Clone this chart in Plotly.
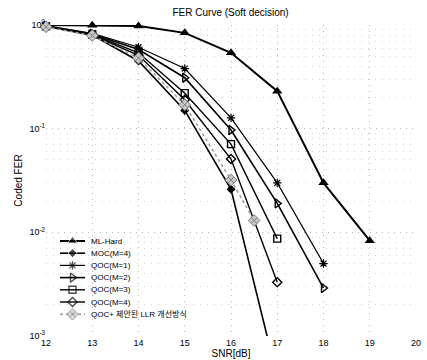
import plotly.graph_objects as go

snr = [12, 13, 14, 15, 16, 17, 18, 19]
ml_hard = [1.0, 0.995, 0.98, 0.84, 0.54, 0.23, 0.030, 0.0083]
moc_m4 = [0.97, 0.80, 0.45, 0.15, 0.026, 0.0004]
qoc_m1 = [0.98, 0.83, 0.61, 0.38, 0.127, 0.030, 0.0050]
qoc_m2 = [0.98, 0.82, 0.58, 0.31, 0.097, 0.019, 0.0029]
qoc_m3 = [0.97, 0.81, 0.54, 0.22, 0.071, 0.0087]
qoc_m4 = [0.97, 0.80, 0.51, 0.19, 0.051, 0.0033]
snr_plus = [12, 13, 14, 15, 16, 16.5]
qoc_plus = [0.96, 0.79, 0.48, 0.17, 0.032, 0.013]

xticks = [12, 13, 14, 15, 16, 17, 18, 19, 20]
yticks = [1, 0.1, 0.01, 0.001]
yticktext = ["10<sup>0</sup>", "10<sup>-1</sup>", "10<sup>-2</sup>", "10<sup>-3</sup>"]

FONT = "Liberation Sans, Arial, Noto Sans CJK KR"

W, H = 427, 360
L, R, T, B = 46, 11, 25, 24

series = [
    ("ML-Hard", snr, ml_hard, dict(color="black", width=2), dict(symbol="triangle-up", size=9, color="black")),
    ("MOC(M=4)", snr, moc_m4, dict(color="black", width=1.6), dict(symbol="diamond", size=7, color="black")),
    ("QOC(M=1)", snr, qoc_m1, dict(color="black", width=1.2), dict(symbol="asterisk-open", size=7, color="black", line=dict(width=1.2, color="black"))),
    ("QOC(M=2)", snr, qoc_m2, dict(color="black", width=1.6), dict(symbol="triangle-right-open", size=8, color="black", line=dict(width=1.4, color="black"))),
    ("QOC(M=3)", snr, qoc_m3, dict(color="black", width=1.4), dict(symbol="square-open", size=7, color="black", line=dict(width=1.4, color="black"))),
    ("QOC(M=4)", snr, qoc_m4, dict(color="black", width=1.4), dict(symbol="diamond-open", size=7, color="black", line=dict(width=1.4, color="black"))),
    ("QOC+ 제안된 LLR 개선방식", snr_plus, qoc_plus, dict(color="#9a9a9a", width=1.5, dash="dot"), dict(symbol="diamond-x", size=9, color="#c8c8c8", line=dict(width=1, color="#808080"))),
]

fig = go.Figure()
for name, xs, ys, ln, mk in series:
    fig.add_trace(go.Scatter(x=xs, y=ys, name=name, mode="lines+markers",
                             line=ln, marker=mk, cliponaxis=False, showlegend=False))

# hand-built legend (pixel-coordinate overlay axes)
leg_x0, leg_x1, leg_xm, leg_tx = 60, 85, 72.5, 89
leg_y0, leg_dy = 241, 12.2
annotations = []
for i, (name, xs, ys, ln, mk) in enumerate(series):
    yy = leg_y0 + i * leg_dy
    mk2 = dict(mk)
    mk2["size"] = [0, mk["size"], 0]
    fig.add_trace(go.Scatter(x=[leg_x0, leg_xm, leg_x1], y=[yy, yy, yy], mode="lines+markers",
                             line=ln, marker=mk2, xaxis="x2", yaxis="y2",
                             showlegend=False, hoverinfo="skip", cliponaxis=False))
    annotations.append(dict(x=leg_tx, y=yy, xref="x2", yref="y2", text=name, showarrow=False,
                            xanchor="left", yanchor="middle",
                            font=dict(size=8, family=FONT, color="black")))

fig.update_layout(
    width=W, height=H,
    margin=dict(l=L, r=R, t=T, b=B, autoexpand=False),
    paper_bgcolor="white", plot_bgcolor="white",
    font=dict(family=FONT, size=9, color="black"),
    title=dict(text="FER Curve (Soft decision)", x=0.54, xanchor="center", y=0.975, yanchor="top",
               font=dict(size=10, family=FONT, color="black")),
    showlegend=False,
    annotations=annotations,
    xaxis2=dict(overlaying="x", range=[L, W - R], visible=False, fixedrange=True),
    yaxis2=dict(overlaying="y", range=[H - B, T], visible=False, fixedrange=True),
    xaxis=dict(range=[12, 20], tickvals=xticks, showline=False, zeroline=False,
               showgrid=True, gridcolor="#b8b8b8", griddash="1px,5px", gridwidth=1,
               ticks="", tickfont=dict(size=9, color="black"), automargin=False,
               title=dict(text="SNR[dB]", font=dict(size=10, color="black"), standoff=2)),
    yaxis=dict(type="log", range=[-3, 0], tickvals=yticks, ticktext=yticktext,
               showline=False, zeroline=False, showgrid=True, gridcolor="#b8b8b8",
               griddash="1px,5px", gridwidth=1, ticks="", tickfont=dict(size=9, color="black"),
               automargin=False,
               minor=dict(showgrid=True, gridcolor="#d4d4d4", griddash="1px,6px",
                          tickvals=[m * 10 ** e for e in (-3, -2, -1) for m in range(2, 10)]),
               title=dict(text="Coded FER", font=dict(size=10, color="black"), standoff=4)),
)

fig.write_html("out.html")
